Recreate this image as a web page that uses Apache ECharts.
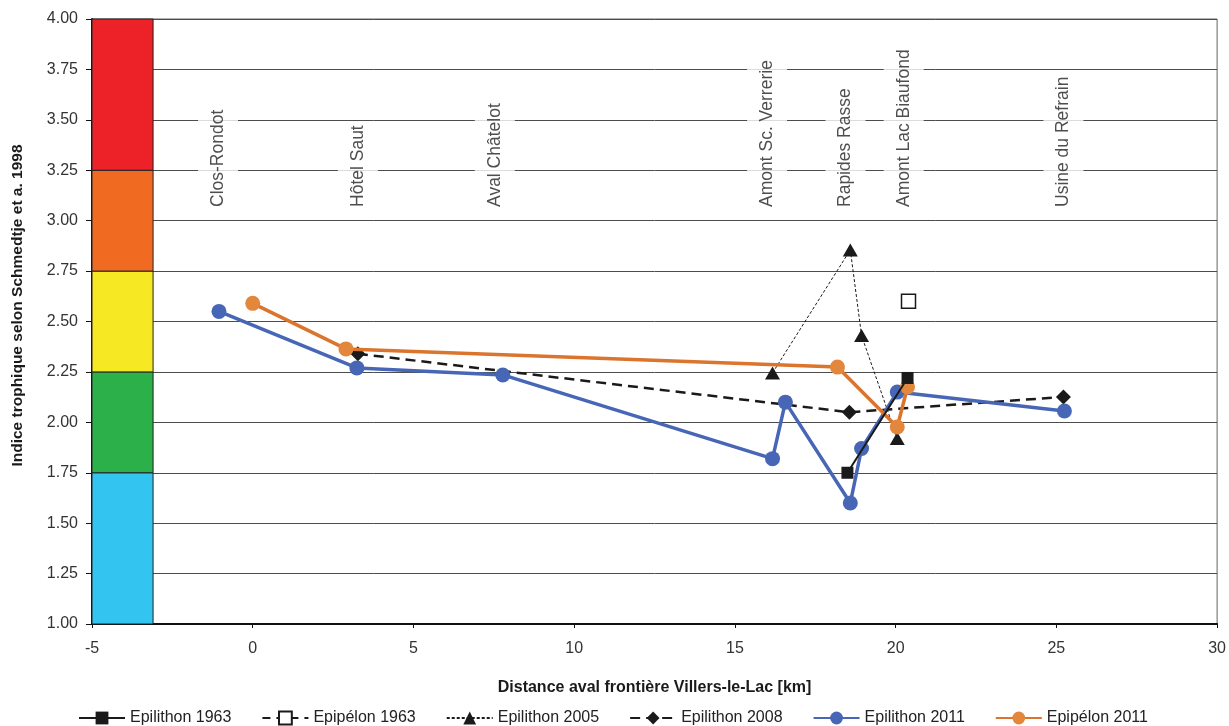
<!DOCTYPE html>
<html><head><meta charset="utf-8">
<script src="https://cdn.jsdelivr.net/npm/echarts@6/dist/echarts.min.js"></script>
<style>html,body{margin:0;padding:0;background:#fff}#c{width:1229px;height:726px}</style>
</head><body><div id="c"></div>
<script>
// x = distance (km), y = trophic index
const epilithon1963 = [[18.5, 1.75], [20.37, 2.22]];
const epipelon1963 = [[20.4, 2.60]];
const epilithon2005 = [[16.17, 2.245], [18.59, 2.855], [18.94, 2.43], [20.05, 1.92]];
const epilithon2008 = [[3.27, 2.34], [18.56, 2.05], [25.22, 2.126]];
const epilithon2011 = [[-1.05, 2.55], [3.24, 2.27], [7.78, 2.235], [16.17, 1.82], [16.57, 2.10], [18.59, 1.60], [18.94, 1.87], [20.05, 2.15], [25.25, 2.056]];
const epipelon2011 = [[0.0, 2.59], [2.9, 2.364], [18.19, 2.274], [20.05, 1.977], [20.37, 2.175]];
const siteNames = ['Clos-Rondot', 'Hôtel Saut', 'Aval Châtelot', 'Amont Sc. Verrerie', 'Rapides Rasse', 'Amont Lac Biaufond', 'Usine du Refrain'];
const sitePositions = [-1.08, 3.27, 7.53, 16.0, 18.44, 20.25, 25.22];
const siteLabelY = 3.053;
const bandLimits = [1.00, 1.75, 2.25, 2.75, 3.25, 4.00];
const bandColors = ['#33C5F0', '#2BB04A', '#F6E823', '#F06A22', '#EC2228'];
const bandX = [-5, -3.1];
const seriesNames = ['Epilithon 1963', 'Epipélon 1963', 'Epilithon 2005', 'Epilithon 2008', 'Epilithon 2011', 'Epipélon 2011'];

const FONT = "'Liberation Sans', Arial, sans-serif";

const bands = bandColors.map((c, i) => [
  {xAxis: bandX[0], yAxis: bandLimits[i], itemStyle: {color: c, borderColor: '#222', borderWidth: 1, opacity: 1}},
  {xAxis: bandX[1], yAxis: bandLimits[i + 1]}
]);

const chart = echarts.init(document.getElementById('c'));
chart.setOption({
  animation: false,
  textStyle: {fontFamily: FONT},
  grid: {left: 92, right: 11, top: 19, bottom: 102, show: true, borderColor: '#666', borderWidth: 1},
  xAxis: {
    type: 'value', min: -5, max: 30, interval: 5,
    name: 'Distance aval frontière Villers-le-Lac [km]', nameLocation: 'middle', nameGap: 56,
    nameTextStyle: {fontFamily: FONT, fontWeight: 'bold', fontSize: 16, color: '#1a1a1a'},
    axisLine: {onZero: false, lineStyle: {color: '#111', width: 2}},
    axisTick: {show: true, length: 4, lineStyle: {color: '#111'}},
    axisLabel: {fontSize: 16, color: '#333', margin: 17, fontFamily: FONT},
    splitLine: {show: false}
  },
  yAxis: {
    type: 'value', min: 1, max: 4, interval: 0.25,
    name: 'Indice trophique selon Schmedtje et a. 1998', nameLocation: 'middle', nameGap: 66, nameRotate: 90,
    nameTextStyle: {fontFamily: FONT, fontWeight: 'bold', fontSize: 15.5, color: '#1a1a1a', padding: [0, 0, 0, 32]},
    axisLine: {show: true, onZero: false, lineStyle: {color: '#111', width: 2}},
    axisTick: {show: true, inside: false, length: 6, lineStyle: {color: '#111'}},
    axisLabel: {fontSize: 16, color: '#333', margin: 14, fontFamily: FONT, formatter: v => v.toFixed(2)},
    splitLine: {show: true, lineStyle: {color: '#4d4d4d', width: 1}}
  },
  legend: {
    data: seriesNames, left: 73, top: 705, itemWidth: 46, itemHeight: 16, itemGap: 30,
    textStyle: {fontSize: 16, color: '#222', fontFamily: FONT}
  },
  series: [
    {
      name: 'sites', type: 'scatter', silent: true, z: 1,
      data: sitePositions.map((x, i) => [x, siteLabelY, siteNames[i]]),
      symbol: 'circle', symbolSize: 1, itemStyle: {color: 'rgba(0,0,0,0)'},
      label: {
        show: true, position: 'inside', rotate: 90, align: 'left', verticalAlign: 'middle',
        formatter: p => p.data[2], fontFamily: FONT, fontSize: 17.5, color: '#222',
        backgroundColor: '#fff', padding: [11, 3, 11, 3]
      },
      markArea: {silent: true, data: bands}
    },
    {
      name: 'Epilithon 1963', type: 'line', data: epilithon1963, z: 6,
      symbol: 'rect', symbolSize: 12, showAllSymbol: true,
      itemStyle: {color: '#1a1a1a'}, lineStyle: {color: '#1a1a1a', width: 2}
    },
    {
      name: 'Epipélon 1963', type: 'line', data: epipelon1963, z: 3,
      symbol: 'rect', symbolSize: 14,
      itemStyle: {color: '#fff', borderColor: '#1a1a1a', borderWidth: 1.5},
      lineStyle: {color: '#1a1a1a', width: 2, type: [8, 6]}
    },
    {
      name: 'Epilithon 2005', type: 'line', data: epilithon2005, z: 3,
      symbol: 'triangle', symbolSize: [15, 13],
      itemStyle: {color: '#1a1a1a'}, lineStyle: {color: '#1a1a1a', width: 1, type: [3, 2]}
    },
    {
      name: 'Epilithon 2008', type: 'line', data: epilithon2008, z: 3,
      symbol: 'diamond', symbolSize: 15,
      itemStyle: {color: '#1a1a1a'}, lineStyle: {color: '#1a1a1a', width: 2.5, type: [10, 6]}
    },
    {
      name: 'Epilithon 2011', type: 'line', data: epilithon2011, z: 4,
      symbol: 'circle', symbolSize: 15,
      itemStyle: {color: '#4767B6'}, lineStyle: {color: '#4767B6', width: 3.5}
    },
    {
      name: 'Epipélon 2011', type: 'line', data: epipelon2011, z: 5,
      symbol: 'circle', symbolSize: 15,
      itemStyle: {color: '#E3873D'}, lineStyle: {color: '#DB742C', width: 3.5}
    }
  ]
});
</script></body></html>
